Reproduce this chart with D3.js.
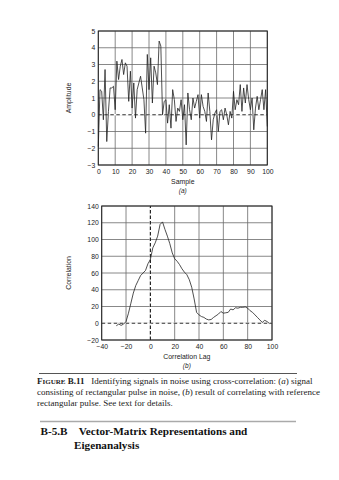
<!DOCTYPE html>
<html><head><meta charset="utf-8">
<script src="https://cdn.jsdelivr.net/npm/d3@7"></script>
<style>body{margin:0;background:#fff}svg{display:block}</style>
</head><body>
<script>
// ---- data ----
const sampleValues = [-1.9,1.5,1.4,-0.3,2.7,-1.6,0.2,1.6,1.6,1.7,0.3,3.2,2.1,2.9,3.3,2.4,3.1,2.9,0.8,2.6,0.4,1.9,-0.2,1.5,1.9,2.3,1.6,0.9,-1.1,3.6,1.5,3.4,0.7,2.9,2.5,1.8,4.4,4.1,0.0,0.8,0.9,-0.5,0.6,-0.8,1.5,0.9,-0.4,0.4,0.2,0.9,-0.3,0.6,-1.8,1.3,0.3,-0.3,1.0,0.4,0.8,1.2,-0.2,1.2,0.5,0.2,-0.4,1.3,0.2,-1.5,-0.3,0.1,0.3,-1.0,0.2,0.3,-0.3,0.4,0.0,-0.6,0.2,-0.2,1.4,0.3,0.9,0.6,1.8,0.2,1.6,0.7,1.8,0.9,0.3,1.0,-0.9,0.4,1.1,0.3,0.9,1.5,0.3,1.5,-0.7];
const corrLags = [-28,-26,-24,-22,-20,-18,-16,-14,-12,-10,-8,-6,-4,-2,0,2,4,6,8,10,12,14,16,18,20,22,24,26,28,30,32,34,36,38,40,42,44,46,48,50,52,54,56,58,60,62,64,66,68,70,72,74,76,78,80,82,84,86,88,90,92,94,96,98];
const corrValues = [-3,-1,-2.5,-1,2,12,24,36,45,51,57,60,63,71,76,90,96,104,118,121,112,104,95,84,77,74,70,65,61,58,52,43,29,13,10,8,7,5,4,4.5,7,9,11,14,12,12.5,13,17,16,18.5,18,19,19,19.5,18,15,13,10,7,4,1,3.5,2,-0.5];
const ampTicks = [-3,-2,-1,0,1,2,3,4,5];
const sampleTicks = [0,10,20,30,40,50,60,70,80,90,100];
const corrTicks = [-20,0,20,40,60,80,100,120,140];
const lagTicks = [-40,-20,0,20,40,60,80,100];
const captionLines = [
  ["Identifying signals in noise using cross-correlation: (", "a", ") signal"],
  ["consisting of rectangular pulse in noise, (", "b", ") result of correlating with reference"],
  ["rectangular pulse. See text for details."]
];
const headingLines = ["B-5.B\u2003Vector-Matrix Representations and", "Eigenanalysis"];

const W = 339, H = 480;
const svg = d3.select("body").append("svg").attr("width", W).attr("height", H);
svg.append("rect").attr("width", W).attr("height", H).attr("fill", "#fff");
const sans = "'Liberation Sans', Arial, sans-serif";
const serif = "'Liberation Serif', 'Times New Roman', serif";

function panel(opts) {
  const {x, y, xTicks, yTicks, data, xTitle, tag, yTitle, vDash} = opts;
  const g = svg.append("g");
  const [x0, x1] = x.range(), [y0, y1] = y.range();
  g.selectAll(".vg").data(xTicks).join("line")
    .attr("x1", d => x(d)).attr("x2", d => x(d)).attr("y1", y0).attr("y2", y1)
    .attr("stroke", "#6a6a6a").attr("stroke-width", 0.8);
  g.selectAll(".hg").data(yTicks).join("line")
    .attr("x1", x0).attr("x2", x1).attr("y1", d => y(d)).attr("y2", d => y(d))
    .attr("stroke", "#6a6a6a").attr("stroke-width", 0.8);
  g.append("line").attr("x1", x0).attr("x2", x1).attr("y1", y(0)).attr("y2", y(0))
    .attr("stroke", "#fff").attr("stroke-width", 1.5);
  g.append("line").attr("x1", x0).attr("x2", x1).attr("y1", y(0)).attr("y2", y(0))
    .attr("stroke", "#333").attr("stroke-width", 1).attr("stroke-dasharray", "3.5,2.5");
  if (vDash) {
    g.append("line").attr("x1", x(0)).attr("x2", x(0)).attr("y1", y0).attr("y2", y1)
      .attr("stroke", "#fff").attr("stroke-width", 1.5);
    g.append("line").attr("x1", x(0)).attr("x2", x(0)).attr("y1", y0).attr("y2", y1)
      .attr("stroke", "#000").attr("stroke-width", 1).attr("stroke-dasharray", "3.5,2");
  }
  g.append("path").datum(data)
    .attr("d", d3.line().x(d => x(d[0])).y(d => y(d[1])))
    .attr("fill", "none").attr("stroke", "#222").attr("stroke-width", 0.8)
    .attr("stroke-linejoin", "round");
  g.append("rect").attr("x", x0).attr("y", y1).attr("width", x1 - x0).attr("height", y0 - y1)
    .attr("fill", "none").attr("stroke", "#222").attr("stroke-width", 1);
  const ax = g.append("g").attr("transform", `translate(0,${y0})`)
    .call(d3.axisBottom(x).tickValues(xTicks).tickSize(0).tickPadding(4).tickFormat(d => d < 0 ? "\u2212" + Math.abs(d) : d));
  ax.select(".domain").remove();
  ax.selectAll("text").attr("font-family", sans).attr("font-size", 6.8).attr("fill", "#222");
  const ay = g.append("g").attr("transform", `translate(${x0},0)`)
    .call(d3.axisLeft(y).tickValues(yTicks).tickSize(0).tickPadding(3).tickFormat(d => d < 0 ? "\u2212" + Math.abs(d) : d));
  ay.select(".domain").remove();
  ay.selectAll("text").attr("font-family", sans).attr("font-size", 6.8).attr("fill", "#222");
  g.append("text").attr("x", (x0 + x1) / 2).attr("y", y0 + 19).attr("text-anchor", "middle")
    .attr("font-family", sans).attr("font-size", 6.9).attr("fill", "#222").text(xTitle);
  g.append("text").attr("x", (x0 + x1) / 2).attr("y", y0 + 28).attr("text-anchor", "middle")
    .attr("font-family", sans).attr("font-size", 6.5).attr("font-style", "italic").attr("fill", "#222").text(tag);
  g.append("text").attr("transform", `translate(${opts.yTitleX},${(y0 + y1) / 2}) rotate(-90)`)
    .attr("text-anchor", "middle").attr("font-family", sans).attr("font-size", 6.9).attr("fill", "#222").text(yTitle);
}

const xA = d3.scaleLinear().domain([0, 100]).range([98.3, 267.3]);
const yA = d3.scaleLinear().domain([-3, 5]).range([165, 31]);
panel({x: xA, y: yA, xTicks: sampleTicks, yTicks: ampTicks,
  data: sampleValues.map((v, i) => [i, v]), xTitle: "Sample", tag: "(a)", yTitle: "Amplitude", yTitleX: 71});

const xB = d3.scaleLinear().domain([-40, 100]).range([101.7, 272]);
const yB = d3.scaleLinear().domain([-20, 140]).range([340, 206]);
panel({x: xB, y: yB, xTicks: lagTicks, yTicks: corrTicks,
  data: corrLags.map((l, i) => [l, corrValues[i]]), xTitle: "Correlation Lag", tag: "(b)", yTitle: "Correlation", yTitleX: 71, vDash: true});

// caption
svg.append("line").attr("x1", 39).attr("x2", 297).attr("y1", 373.5).attr("y2", 373.5)
  .attr("stroke", "#555").attr("stroke-width", 1.2);
const cap = svg.append("g").attr("font-family", serif).attr("font-size", 9).attr("fill", "#222");
const t0 = cap.append("text").attr("x", 37).attr("y", 384);
t0.append("tspan").attr("font-weight", "bold").text("F");
t0.append("tspan").attr("font-weight", "bold").attr("font-size", 7).text("IGURE");
t0.append("tspan").attr("font-weight", "bold").text(" B.11");
t0.append("tspan").text("\u2002 ");
captionLines[0].forEach((s, i) => t0.append("tspan").attr("font-style", i === 1 ? "italic" : null).text(s));
[1, 2].forEach(li => {
  const t = cap.append("text").attr("x", 37).attr("y", 384 + li * 10.8);
  captionLines[li].forEach((s, i) => t.append("tspan").attr("font-style", i === 1 ? "italic" : null).text(s));
});

// heading
svg.append("line").attr("x1", 40).attr("x2", 296).attr("y1", 421.5).attr("y2", 421.5)
  .attr("stroke", "#aaa").attr("stroke-width", 1.6);
svg.append("text").attr("x", 40.5).attr("y", 434.5).attr("font-family", serif).attr("font-weight", "bold")
  .attr("font-size", 11.2).attr("fill", "#111").text(headingLines[0]);
svg.append("text").attr("x", 74).attr("y", 448.5).attr("font-family", serif).attr("font-weight", "bold")
  .attr("font-size", 11.2).attr("fill", "#111").text(headingLines[1]);
</script>
</body></html>
